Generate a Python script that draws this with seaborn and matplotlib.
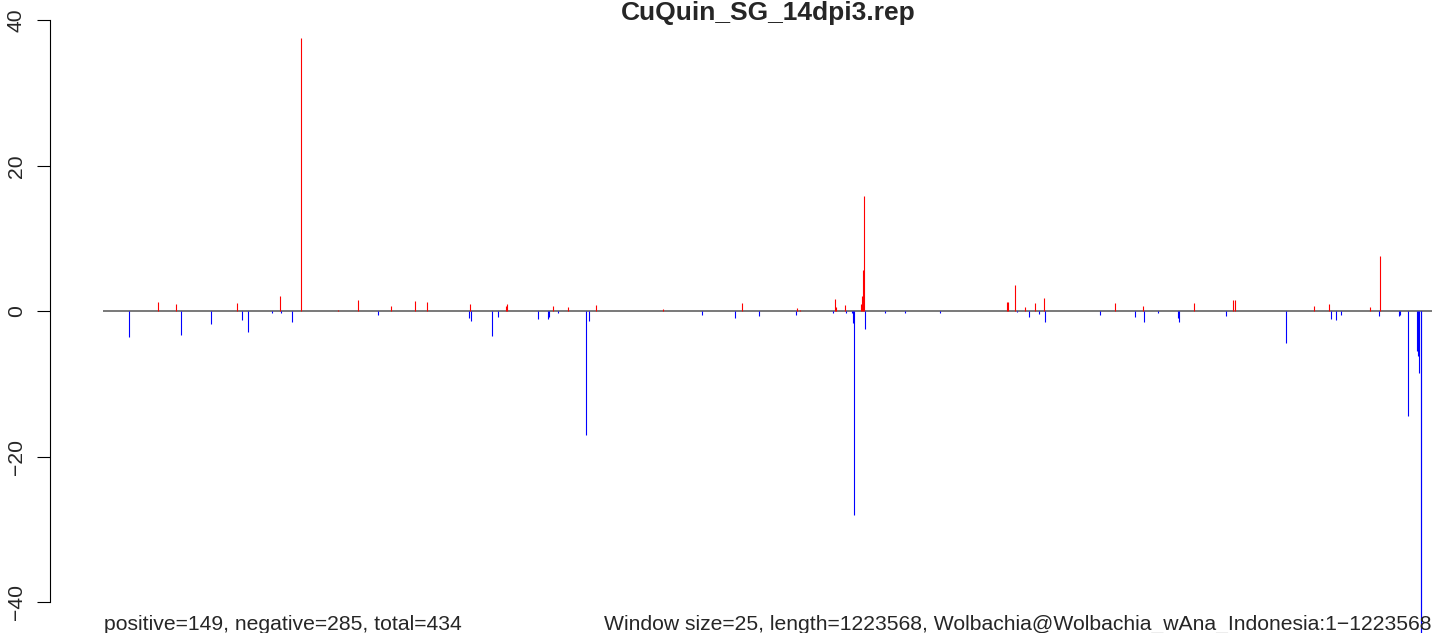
import matplotlib
matplotlib.use("Agg")
import matplotlib.pyplot as plt
import numpy as np
import pandas as pd
import seaborn as sns

# Window start positions (bp) and signed scores along the Wolbachia genome
pos_positions = [50100, 67230, 123400, 163000, 182100, 216400, 234900, 265200,
                 287400, 298400, 338000, 371200, 372100, 414500, 428300, 454100,
                 515800, 588500, 639200, 641900, 674200, 675100, 683400, 697800,
                 698800, 699700, 700600, 832600, 833500, 839950, 849200, 858400,
                 866700, 932100, 957800, 1004800, 1040700, 1042600, 1115300,
                 1129100, 1166900, 1176100]
pos_values = [1.3, 1.0, 1.15, 2.1, 37.5, 0.2, 1.55, 0.73,
              1.4, 1.3, 1.0, 0.73, 1.0, 0.69, 0.6, 0.87,
              0.32, 1.15, 0.46, 0.2, 1.7, 0.6, 0.87, 1.05,
              2.15, 5.7, 15.9, 1.33, 1.24, 3.57, 0.64, 1.1,
              1.88, 1.1, 0.73, 1.1, 1.5, 1.6, 0.69,
              0.96, 0.55, 7.6]

neg_positions = [23900, 71800, 99500, 128000, 133500, 155600, 163900, 174100,
                 253300, 337100, 338900, 357700, 363800, 400600, 409800, 410800,
                 419100, 444800, 447600, 551700, 582100, 604200, 638300, 672300,
                 684300, 689800, 690800, 691400, 701500, 720200, 738600, 770900,
                 841800, 852800, 862100, 867600, 918200, 950500, 958700, 971700,
                 990100, 991000, 1034300, 1089000, 1131000, 1135600, 1140200,
                 1175200, 1193600, 1194500, 1201900, 1210200, 1211100, 1212000,
                 1213000, 1213600]
neg_values = [-3.6, -3.2, -1.7, -1.2, -2.9, -0.3, -0.2, -1.5,
              -0.45, -0.9, -1.3, -3.35, -0.73, -1.0, -1.0, -0.73,
              -0.23, -17.0, -1.3, -0.46, -0.87, -0.6, -0.46, -0.2,
              -0.2, -0.3, -1.6, -28.0, -2.5, -0.2, -0.2, -0.2,
              -0.15, -0.82, -0.41, -1.51, -0.46, -0.73, -1.42, -0.2,
              -0.87, -1.42, -0.64, -4.35, -1.05, -1.2, -0.5,
              -0.64, -0.64, -0.5, -14.4, -5.45, -6.2, -8.5,
              -46.0, -46.0]

y_ticks = [-40, -20, 0, 20, 40]
genome_length = 1223568
title = "CuQuin_SG_14dpi3.rep"
left_note = "positive=149, negative=285, total=434"
right_note = ("Window size=25, length=1223568, "
              "Wolbachia@Wolbachia_wAna_Indonesia:1\u22121223568")

df = pd.DataFrame({
    "position": pos_positions + neg_positions,
    "score": pos_values + neg_values,
    "strand": ["positive"] * len(pos_positions) + ["negative"] * len(neg_positions),
})

sns.set_style("white")
plt.rcParams["font.family"] = ["Liberation Sans", "DejaVu Sans"]
palette = dict(zip(["positive", "negative"], sns.color_palette(["#FF0000", "#0000FF"])))

W, H = 1433, 633
fig = plt.figure(figsize=(W / 100, H / 100), dpi=100)
ax = fig.add_axes([50 / W, 0, 1 - 50 / W, 1])

bp_per_px = genome_length / (1432 - 103.3)
ax.set_xlim((50 - 103.3) * bp_per_px, (W - 103.3) * bp_per_px)
zero_px, px_per_unit = 311.3, 7.275
ax.set_ylim(-(H - zero_px) / px_per_unit, zero_px / px_per_unit)

# baseline across the genome
ax.plot([0, genome_length], [0, 0], color="#555555", lw=1.1, zorder=1,
        solid_capstyle="butt")

# one vertical stick per window, coloured by sign
for strand, sub in df.groupby("strand"):
    ax.vlines(sub["position"], 0, sub["score"], colors=[palette[strand]],
              lw=0.8, zorder=2)

sns.despine(ax=ax, left=False, bottom=True, top=True, right=True)
ax.spines["left"].set_bounds(-40, 40)
ax.spines["left"].set_linewidth(0.8)
ax.spines["left"].set_color("black")
ax.set_xticks([])
ax.set_yticks(y_ticks)
ax.set_yticklabels([f"{t}".replace("-", "\u2212") for t in y_ticks])
ax.tick_params(axis="y", direction="out", length=9.4, width=0.8, color="black",
               labelsize=15.2, labelrotation=90, pad=8, left=True)
for lab in ax.get_yticklabels():
    lab.set_va("center")
ax.set_facecolor("white")

fig.text(768 / W, 1 - 20 / H, title, ha="center", va="baseline",
         fontsize=19.0, fontweight="bold")
fig.text(104 / W, 1 - 630 / H, left_note, ha="left", va="baseline", fontsize=15.25)
fig.text(1432 / W, 1 - 630 / H, right_note, ha="right", va="baseline", fontsize=15.25)

fig.savefig("out.png", dpi=100, facecolor="white")
